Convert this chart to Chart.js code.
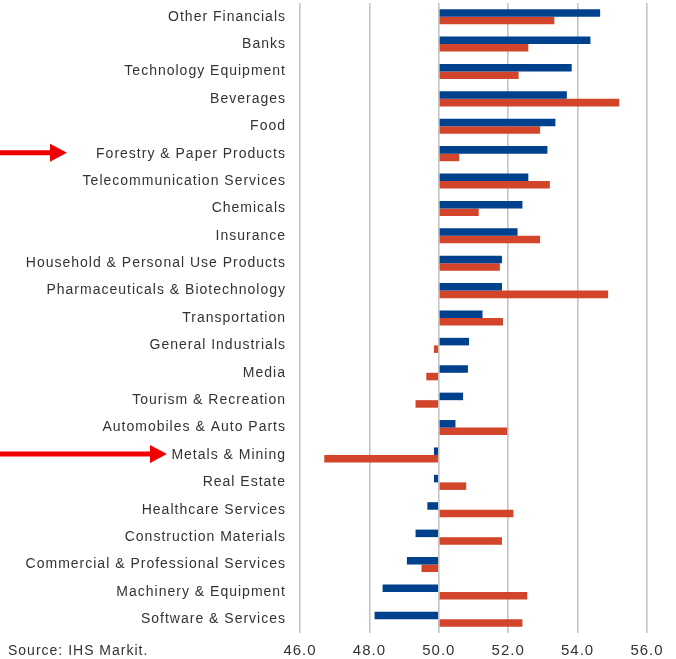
<!DOCTYPE html>
<html>
<head>
<meta charset="utf-8">
<script src="https://cdn.jsdelivr.net/npm/chart.js@4.4.1/dist/chart.umd.min.js"></script>
<style>
html,body{margin:0;padding:0;background:#fff;}
#wrap{position:relative;width:676px;height:659px;}
#source{position:absolute;left:8px;top:642px;font-family:"Liberation Sans",Arial,sans-serif;font-size:14px;letter-spacing:1px;color:#333;}
</style>
</head>
<body>
<div id="wrap">
<canvas id="c" width="676" height="659"></canvas>
<div id="source">Source: IHS Markit.</div>
</div>
<script>
const categories = [
  "Other Financials","Banks","Technology Equipment","Beverages","Food",
  "Forestry & Paper Products","Telecommunication Services","Chemicals","Insurance",
  "Household & Personal Use Products","Pharmaceuticals & Biotechnology","Transportation",
  "General Industrials","Media","Tourism & Recreation","Automobiles & Auto Parts",
  "Metals & Mining","Real Estate","Healthcare Services","Construction Materials",
  "Commercial & Professional Services","Machinery & Equipment","Software & Services"
];
const seriesBlue = [54.65,54.37,53.83,53.69,53.36,53.13,52.58,52.41,52.27,51.82,51.82,51.26,
  50.87,50.84,50.70,50.48,49.86,49.86,49.67,49.33,49.08,48.38,48.15];
const seriesRed = [53.33,52.58,52.30,55.20,52.92,50.59,53.20,51.15,52.92,51.76,54.88,51.85,
  49.86,49.64,49.33,51.97,46.70,50.79,52.15,51.82,49.50,52.55,52.41];
const xTicks = [46,48,50,52,54,56];
const arrowTargets = ["Forestry & Paper Products","Metals & Mining"];

const spacingPlugin = {
  id:'spacing',
  beforeDraw(chart){ chart.ctx.letterSpacing = '1px'; }
};

const arrowPlugin = {
  id:'arrows',
  afterDraw(chart){
    const ctx = chart.ctx, y = chart.scales.y;
    ctx.save();
    ctx.fillStyle = '#f00000';
    const ends = {"Forestry & Paper Products":67,"Metals & Mining":167};
    arrowTargets.forEach(name=>{
      const idx = categories.indexOf(name);
      const yc = y.getPixelForValue(idx) - 1;
      const tip = ends[name];
      const headLen = 17, headH = 9, shaft = 2.5;
      ctx.beginPath();
      ctx.moveTo(0, yc - shaft);
      ctx.lineTo(tip - headLen, yc - shaft);
      ctx.lineTo(tip - headLen, yc - headH);
      ctx.lineTo(tip, yc);
      ctx.lineTo(tip - headLen, yc + headH);
      ctx.lineTo(tip - headLen, yc + shaft);
      ctx.lineTo(0, yc + shaft);
      ctx.closePath();
      ctx.fill();
    });
    ctx.restore();
  }
};

new Chart(document.getElementById('c'), {
  type:'bar',
  data:{
    labels: categories,
    datasets:[
      {label:'Blue', data: seriesBlue, base:50, backgroundColor:'#00418e', borderWidth:0,
       categoryPercentage:0.55, barPercentage:1},
      {label:'Red', data: seriesRed, base:50, backgroundColor:'#d2452a', borderWidth:0,
       categoryPercentage:0.55, barPercentage:1}
    ]
  },
  options:{
    indexAxis:'y',
    responsive:false,
    animation:false,
    layout:{padding:{top:3,right:29,bottom:0,left:0}},
    plugins:{legend:{display:false},tooltip:{enabled:false}},
    scales:{
      x:{
        min:46,max:56,
        afterBuildTicks(s){ s.ticks = xTicks.map(v=>({value:v})); },
        grid:{color:'#c4c4c4',lineWidth:1.6,drawTicks:false},
        border:{display:false},
        ticks:{padding:9,color:'#333',font:{family:'"Liberation Sans", Arial, sans-serif',size:15},
          callback:v=>Number(v).toFixed(1)},
        afterFit(s){ s.height = 26; s.paddingLeft = 0; s.paddingRight = 0; }
      },
      y:{
        grid:{display:false,drawTicks:false},
        border:{display:false},
        ticks:{padding:14,color:'#333',font:{family:'"Liberation Sans", Arial, sans-serif',size:14}},
        afterFit(s){ s.width = 300; s.paddingTop = 0; s.paddingBottom = 0; }
      }
    }
  },
  plugins:[spacingPlugin, arrowPlugin]
});
</script>
</body>
</html>
